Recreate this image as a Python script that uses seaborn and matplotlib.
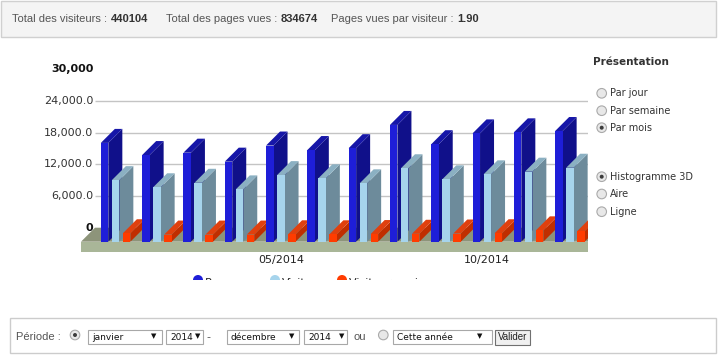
import matplotlib
matplotlib.use("Agg")
import matplotlib.pyplot as plt
import numpy as np
import pandas as pd
import seaborn as sns
from matplotlib.patches import Rectangle, Polygon, Circle
from matplotlib.transforms import IdentityTransform
from matplotlib import font_manager

# ---------------- data ----------------
months = ["01/2014", "02/2014", "03/2014", "04/2014", "05/2014", "06/2014",
          "07/2014", "08/2014", "09/2014", "10/2014", "11/2014", "12/2014"]
series = ["Pages vues", "Visites", "Visiteurs uniques"]
pages_vues = [18700, 16400, 16850, 15150, 18200, 17350, 17700, 22100, 18450, 20500, 20700, 20950]
visites = [11650, 10300, 11150, 9900, 12600, 12000, 11050, 13900, 11800, 12750, 13250, 14000]
visiteurs_uniques = [1600, 1350, 1350, 1350, 1400, 1400, 1450, 1500, 1550, 1600, 2150, 2000]
shown_ticks = ["05/2014", "10/2014"]
ytick_values = [0, 6000, 12000, 18000, 24000, 30000]
ytick_labels = ["0", "6,000.0", "12,000.0", "18,000.0", "24,000.0", "30,000"]
grid_values = [6000, 12000, 18000, 24000]

header_parts = [("Total des visiteurs : ", "440104"),
                ("Total des pages vues : ", "834674"),
                ("Pages vues par visiteur : ", "1.90")]
periodes = ["Par jour", "Par semaine", "Par mois"]
types = ["Histogramme 3D", "Aire", "Ligne"]

# ---------------- styles ----------------
front_colors = ["#1e1ed8", "#a6d4ec", "#ff3c00"]
side_colors = ["#10108a", "#6d8b9b", "#c02e00"]
top_colors = ["#1616a8", "#8bb0c2", "#e0400e"]

sns.set_style("white")
avail = {f.name for f in font_manager.fontManager.ttflist}
NARROW = "Liberation Sans Narrow" if "Liberation Sans Narrow" in avail else "Liberation Sans"
plt.rcParams["font.family"] = ["DejaVu Sans"]

W, H = 718, 356
fig = plt.figure(figsize=(W / 100, H / 100), dpi=100)
fig.patch.set_facecolor("white")
ID = IdentityTransform()

def Y(py):
    return H - py

# ---------------- chart axes geometry ----------------
AX_L, AX_R, AX_T, AX_B = 81, 588, 60, 252
BASE_PX = 241.7            # front baseline
PX_PER_UNIT_Y = 31.7 / 6000
GROUP_PX = 41.3
G0_PX = 115.6
DEPTH_X, DEPTH_Y = 14, 14

ax = fig.add_axes([AX_L / W, (H - AX_B) / H, (AX_R - AX_L) / W, (AX_B - AX_T) / H])
ax.set_facecolor("none")

df = pd.DataFrame({
    "mois": np.repeat(months, 3),
    "serie": series * len(months),
    "valeur": np.ravel(np.column_stack([pages_vues, visites, visiteurs_uniques])),
})

sns.barplot(data=df, x="mois", y="valeur", hue="serie", hue_order=series, order=months,
            palette=front_colors, saturation=1, width=0.8, gap=0.32,
            linewidth=0, legend=False, errorbar=None, ax=ax)

xl = (AX_L - G0_PX) / GROUP_PX
xr = (AX_R - G0_PX) / GROUP_PX
yb = -(AX_B - BASE_PX) / PX_PER_UNIT_Y
yt = (BASE_PX - AX_T) / PX_PER_UNIT_Y
ax.set_xlim(xl, xr)
ax.set_ylim(yb, yt)
dxd = DEPTH_X / GROUP_PX
dyd = DEPTH_Y / PX_PER_UNIT_Y

# floor
ax.add_patch(Rectangle((xl, yb), xr - xl, -yb, fc="#a9b698", ec="none", zorder=1))
ax.add_patch(Polygon([(xl, 0), (xr + 1, 0), (xr + 1 + dxd, dyd), (xl + dxd, dyd)],
                     closed=True, fc="#8d947a", ec="none", zorder=1))
# back wall grid lines
for v in grid_values:
    ax.plot([xl + dxd, xr], [v + dyd, v + dyd], color="#c4c4c4", lw=1, zorder=1.5,
            solid_capstyle="butt")

# 3D faces
for j, cont in enumerate(ax.containers):
    for i, rect in enumerate(cont.patches):
        z = 3 + (i * 3 + j) * 0.01
        x0, w, h = rect.get_x(), rect.get_width(), rect.get_height()
        side = Polygon([(x0 + w, 0), (x0 + w, h), (x0 + w + dxd, h + dyd), (x0 + w + dxd, dyd)],
                       closed=True, fc=side_colors[j], ec="none", zorder=z)
        top = Polygon([(x0, h), (x0 + w, h), (x0 + w + dxd, h + dyd), (x0 + dxd, h + dyd)],
                      closed=True, fc=top_colors[j], ec="none", zorder=z)
        ax.add_patch(side)
        ax.add_patch(top)
        rect.set_zorder(z + 0.005)

# y labels on back wall
lab_x = (93.5 - G0_PX) / GROUP_PX
for v, s in zip(ytick_values, ytick_labels):
    bold = s in ("0", "30,000")
    ax.text(lab_x, v + dyd, s, ha="right", va="center", fontsize=8,
            fontweight="bold" if bold else "normal",
            color="#111111" if bold else "#333333", clip_on=False)

ax.set_xticks([months.index(m) for m in shown_ticks], labels=shown_ticks)
ax.tick_params(axis="x", length=0, pad=2.5, labelsize=8, labelcolor="#222222")
ax.set_yticks([])
ax.set_xlabel("")
ax.set_ylabel("")
for sp in ax.spines.values():
    sp.set_visible(False)

# legend (clipped like the reference)
leg_x = [198, 275, 342]
for cx, name, c in zip(leg_x, series, front_colors):
    fig.add_artist(Circle((cx, Y(280)), 5, transform=ID, fc=c, ec="none", zorder=5))
    fig.text(cx + 7, Y(283), name, transform=ID, fontsize=8, va="center", ha="left",
             color="#222222", zorder=5)
fig.add_artist(Rectangle((140, Y(312)), 340, 312 - 279.5, transform=ID, fc="white",
                         ec="none", zorder=50))

# ---------------- header ----------------
fig.add_artist(Rectangle((1, Y(37)), 715, 36, transform=ID, fc="#f4f4f4", ec="#d0d0d0",
                         lw=1, zorder=0.5))
renderer = fig.canvas.get_renderer()
for (lab, val), x in zip(header_parts, [11.6, 165.7, 331]):
    t = fig.text(x, Y(18.5), lab.rstrip(), transform=ID, fontsize=8, family=NARROW,
                 color="#555555", va="center", ha="left", zorder=5)
    bb = t.get_window_extent(renderer)
    fig.text(bb.x1 + 4, Y(18.5), val, transform=ID, fontsize=8, family=NARROW,
             fontweight="bold", color="#333333", va="center", ha="left", zorder=5)

# ---------------- right panel ----------------
def radio(cx, cy, checked):
    fig.add_artist(Circle((cx, Y(cy)), 4.8, transform=ID, fc="#e8e8e8", ec="#aaaaaa",
                          lw=0.8, zorder=5))
    if checked:
        fig.add_artist(Circle((cx, Y(cy)), 2, transform=ID, fc="#3c3c3c", ec="none", zorder=6))

fig.text(592.5, Y(62.3), "Présentation", transform=ID, fontsize=7.5, fontweight="bold",
         color="#333333", va="center", ha="left")
for s, cy, chk in zip(periodes, [93.3, 110.7, 127.7], [False, False, True]):
    radio(601.7, cy, chk)
    fig.text(610, Y(cy), s, transform=ID, fontsize=7, color="#333333", va="center", ha="left")
for s, cy, chk in zip(types, [176.7, 194, 211.7], [True, False, False]):
    radio(601.7, cy, chk)
    fig.text(610, Y(cy), s, transform=ID, fontsize=7, color="#333333", va="center", ha="left")

# ---------------- bottom form ----------------
fig.add_artist(Rectangle((10, Y(353)), 706, 35, transform=ID, fc="white", ec="#cccccc",
                         lw=1, zorder=0.5))
FY = 337
fig.text(16, Y(FY), "Période :", transform=ID, fontsize=8, family=NARROW, color="#555555",
         va="center", ha="left")
radio(75, 335, True)

def select(x0, x1, label, arrow_x):
    fig.add_artist(Rectangle((x0, Y(344)), x1 - x0, 14, transform=ID, fc="white",
                             ec="#a8a8a8", lw=0.8, zorder=5))
    fig.text(x0 + 4, Y(FY), label, transform=ID, fontsize=6.5, color="#111111",
             va="center", ha="left", zorder=6)
    fig.text(arrow_x, Y(FY - 0.5), "▼", transform=ID, fontsize=5, color="#111111",
             va="center", ha="center", zorder=6)

select(88, 162, "janvier", 154)
select(166, 203, "2014", 198)
fig.text(208, Y(FY), "-", transform=ID, fontsize=8, color="#555555", va="center", ha="center")
select(226.7, 299, "décembre", 291.7)
select(304, 346.7, "2014", 341.7)
fig.text(353, Y(FY), "ou", transform=ID, fontsize=8, family=NARROW, color="#555555",
         va="center", ha="left")
radio(383.3, 335, False)
select(393.3, 491.7, "Cette année", 480)
fig.add_artist(Rectangle((495, Y(345)), 35, 15, transform=ID, fc="#f0f0f0", ec="#707070",
                         lw=0.8, zorder=5))
fig.text(512.5, Y(FY), "Valider", transform=ID, fontsize=7, family=NARROW, color="#222222",
         va="center", ha="center", zorder=6)

fig.savefig("out.png", dpi=100)
